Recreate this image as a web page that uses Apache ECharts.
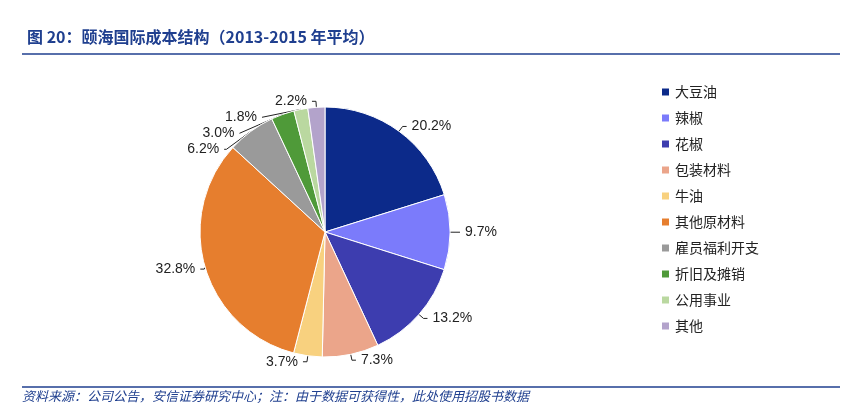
<!DOCTYPE html>
<html><head><meta charset="utf-8">
<script src="https://cdn.jsdelivr.net/npm/echarts@6/dist/echarts.min.js"></script>
<style>body{margin:0;background:#fff}#ech{width:863px;height:412px}</style>
</head><body><div id="ech"></div>
<script>
var categories = ['大豆油','辣椒','花椒','包装材料','牛油','其他原材料','雇员福利开支','折旧及摊销','公用事业','其他'];
var values = [20.2, 9.7, 13.2, 7.3, 3.7, 32.8, 6.2, 3.0, 1.8, 2.2];
var colors = ['#0c2a8a','#7b7bfb','#3d3daf','#eba58a','#f8d17f','#e67e2e','#9a9a9a','#4f9a39','#bad8a0','#b3a3cb'];

var ownChart = echarts.init(document.getElementById('ech'));
var option = {
    color: colors,
    title: {
        text: '图 20：颐海国际成本结构（2013-2015 年平均）',
        left: 22, top: 24,
        textStyle: {color: '#1f3f8f', fontSize: 16, fontWeight: 'bold', fontFamily: 'Noto Sans CJK SC'}
    },
    graphic: [
        {type: 'line', shape: {x1: 22, y1: 54, x2: 840, y2: 54}, style: {stroke: '#1f3f8f', lineWidth: 1.5}},
        {type: 'line', shape: {x1: 22, y1: 387, x2: 840, y2: 387}, style: {stroke: '#1f3f8f', lineWidth: 1.5}},
        {type: 'text', left: 22, top: 390, style: {text: '资料来源：公司公告，安信证券研究中心；注：由于数据可获得性，此处使用招股书数据',
            fill: '#1f3f8f', fontSize: 13, fontStyle: 'italic', fontFamily: 'Noto Sans CJK SC'}}
    ],
    legend: {
        orient: 'vertical', left: 655, top: 80, itemGap: 12,
        itemWidth: 9, itemHeight: 9, icon: 'rect',
        data: categories,
        textStyle: {fontSize: 14, color: '#222', fontFamily: 'Noto Sans CJK SC'}
    },
    series: [{
        type: 'pie',
        center: [325, 232], radius: 125,
        startAngle: 90, clockwise: true,
        itemStyle: {borderColor: '#fff', borderWidth: 1},
        label: {show: true, formatter: function(p){ return p.value.toFixed(1) + '%'; },
            fontSize: 14, color: '#222', fontFamily: 'Liberation Sans'},
        labelLine: {show: true, length: 6, length2: 4, lineStyle: {color: '#222'}},
        emphasis: {scale: false},
        data: categories.map(function(c, i){ return {name: c, value: values[i]}; })
    }]
};
ownChart.setOption(option);
</script></body></html>
